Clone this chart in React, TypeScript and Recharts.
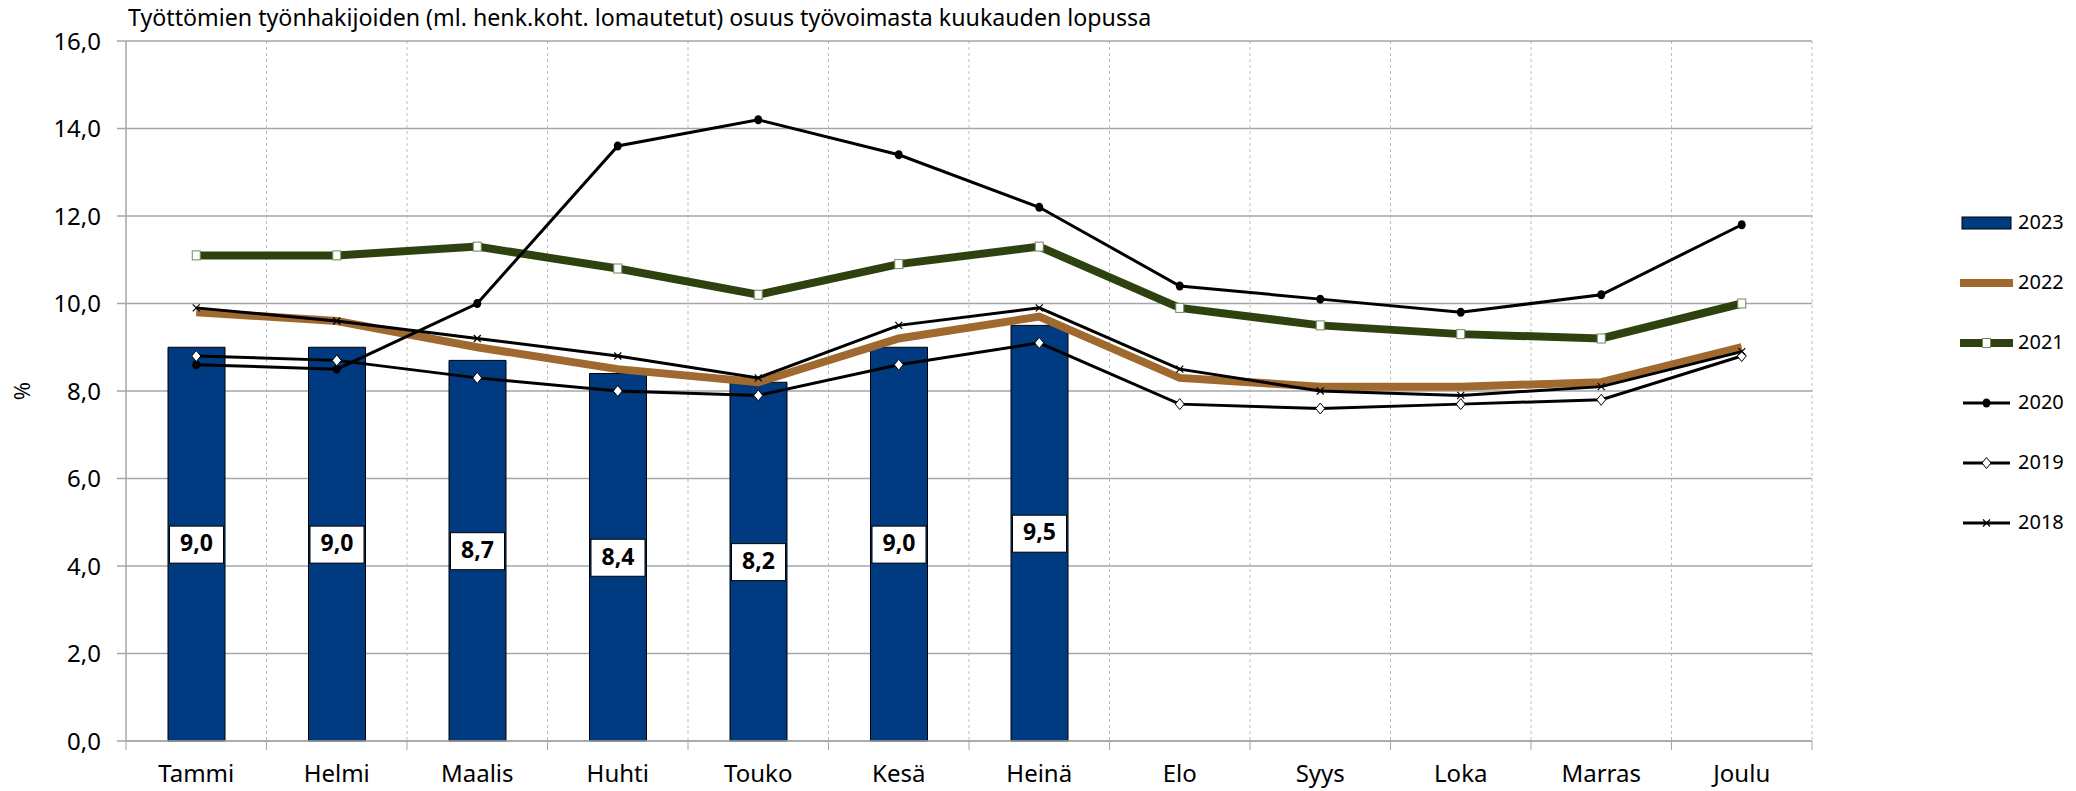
import { ComposedChart, Bar, Line, XAxis, YAxis, CartesianGrid, LabelList } from 'recharts';

const months = ['Tammi', 'Helmi', 'Maalis', 'Huhti', 'Touko', 'Kesä', 'Heinä', 'Elo', 'Syys', 'Loka', 'Marras', 'Joulu'];
const v2023 = [9.0, 9.0, 8.7, 8.4, 8.2, 9.0, 9.5];
const v2022 = [9.8, 9.6, 9.0, 8.5, 8.2, 9.2, 9.7, 8.3, 8.1, 8.1, 8.2, 9.0];
const v2021 = [11.1, 11.1, 11.3, 10.8, 10.2, 10.9, 11.3, 9.9, 9.5, 9.3, 9.2, 10.0];
const v2020 = [8.6, 8.5, 10.0, 13.6, 14.2, 13.4, 12.2, 10.4, 10.1, 9.8, 10.2, 11.8];
const v2019 = [8.8, 8.7, 8.3, 8.0, 7.9, 8.6, 9.1, 7.7, 7.6, 7.7, 7.8, 8.8];
const v2018 = [9.9, 9.6, 9.2, 8.8, 8.3, 9.5, 9.9, 8.5, 8.0, 7.9, 8.1, 8.9];
const yTicks = [0, 2, 4, 6, 8, 10, 12, 14, 16];

const data = months.map((month, i) => ({
  month,
  y2023: v2023[i] ?? null,
  y2022: v2022[i],
  y2021: v2021[i],
  y2020: v2020[i],
  y2019: v2019[i],
  y2018: v2018[i],
}));

const W = 2076;
const H = 791;
const M = { top: 41, right: 264, bottom: 0, left: 26 };
const Y_AXIS_W = 100;
const X_AXIS_H = 50;
const PLOT_LEFT = M.left + Y_AXIS_W;
const PLOT_W = W - PLOT_LEFT - M.right;
const PLOT_BOTTOM = H - M.bottom - X_AXIS_H;
const STEP = PLOT_W / months.length;

const FONT = '"Noto Sans", "Open Sans", sans-serif';
const GRID = '#a6a6a6';
const BLUE = '#003a80';
const BROWN = '#a0692f';
const GREEN = '#2e4210';

const fmt = (v: number) => v.toFixed(1).replace('.', ',');

const MonthTick = (props: any) => {
  const { x, payload, index } = props;
  const left = x - STEP / 2;
  return (
    <g>
      <line x1={left} x2={left} y1={PLOT_BOTTOM} y2={PLOT_BOTTOM + 9} stroke={GRID} />
      {index === months.length - 1 && (
        <line x1={x + STEP / 2} x2={x + STEP / 2} y1={PLOT_BOTTOM} y2={PLOT_BOTTOM + 9} stroke={GRID} />
      )}
      <text x={x} y={PLOT_BOTTOM + 35} textAnchor="middle" dominantBaseline="middle" fontSize={24} fontFamily={FONT} fill="#000">
        {payload.value}
      </text>
    </g>
  );
};

const BarValue = (props: any) => {
  const { x, y, width, height, value } = props;
  if (value == null) return null;
  const cx = x + width / 2;
  const cy = y + height / 2;
  return (
    <g>
      <rect x={cx - 27} y={cy - 18} width={54} height={37} fill="#fff" stroke="#000" strokeWidth={1} />
      <text x={cx} y={cy + 1} textAnchor="middle" dominantBaseline="middle" fontSize={23} fontWeight="bold" fontFamily={FONT} fill="#000">
        {fmt(value)}
      </text>
    </g>
  );
};

const squareDot = (p: any) => (
  <rect key={p.key} x={p.cx - 4} y={p.cy - 4.5} width={8} height={9} fill="#fff" stroke="#76875a" strokeWidth={1} />
);
const circleDot = (p: any) => <ellipse key={p.key} cx={p.cx} cy={p.cy} rx={4} ry={4.5} fill="#000" />;
const diamondDot = (p: any) => (
  <path key={p.key} d={`M${p.cx},${p.cy - 5.5} L${p.cx + 4.5},${p.cy} L${p.cx},${p.cy + 5.5} L${p.cx - 4.5},${p.cy} Z`} fill="#fff" stroke="#000" strokeWidth={1} />
);
const crossDot = (p: any) => (
  <path key={p.key} d={`M${p.cx - 3.5},${p.cy - 3.5} L${p.cx + 3.5},${p.cy + 3.5} M${p.cx + 3.5},${p.cy - 3.5} L${p.cx - 3.5},${p.cy + 3.5}`} stroke="#000" strokeWidth={1.2} />
);

const legendItems = [
  { name: '2023', kind: 'bar' },
  { name: '2022', kind: 'brown' },
  { name: '2021', kind: 'green' },
  { name: '2020', kind: 'circle' },
  { name: '2019', kind: 'diamond' },
  { name: '2018', kind: 'cross' },
];

const LegendBox = () => (
  <svg width={118} height={370} style={{ position: 'absolute', left: 1955, top: 193 }}>
    {legendItems.map((it, i) => {
      const cy = 30 + i * 60;
      const x1 = 5;
      const x2 = 58;
      const mid = (x1 + x2) / 2;
      let icon = null;
      if (it.kind === 'bar') {
        icon = <rect x={x1 + 2} y={cy - 6} width={x2 - x1 - 4} height={12} fill={BLUE} stroke="#000" strokeWidth={1} />;
      } else if (it.kind === 'brown') {
        icon = <line x1={x1} x2={x2} y1={cy} y2={cy} stroke={BROWN} strokeWidth={8} />;
      } else if (it.kind === 'green') {
        icon = (
          <g>
            <line x1={x1} x2={x2} y1={cy} y2={cy} stroke={GREEN} strokeWidth={8} />
            {squareDot({ cx: mid, cy })}
          </g>
        );
      } else {
        icon = (
          <g>
            <line x1={x1 + 3} x2={x2 - 3} y1={cy} y2={cy} stroke="#000" strokeWidth={3} />
            {it.kind === 'circle' && circleDot({ cx: mid, cy })}
            {it.kind === 'diamond' && diamondDot({ cx: mid, cy })}
            {it.kind === 'cross' && crossDot({ cx: mid, cy })}
          </g>
        );
      }
      return (
        <g key={it.name}>
          {icon}
          <text x={63} y={cy + 1} dominantBaseline="middle" fontSize={20} fontFamily={FONT} fill="#000">
            {it.name}
          </text>
        </g>
      );
    })}
  </svg>
);

export default function App() {
  return (
    <div style={{ position: 'fixed', left: 0, top: 0, width: W, height: H, background: '#fff', overflow: 'hidden' }}>
      <div style={{ position: 'absolute', left: 128, top: 1, fontSize: 23.2, fontFamily: FONT, color: '#000', whiteSpace: 'nowrap' }}>
        Työttömien työnhakijoiden (ml. henk.koht. lomautetut) osuus työvoimasta kuukauden lopussa
      </div>
      <div style={{ position: 'absolute', left: 12, top: 391, fontSize: 22, fontFamily: FONT, transform: 'translate(0,-50%) rotate(-90deg)' }}>%</div>
      <ComposedChart width={W} height={H} data={data} margin={M} barCategoryGap={0}>
        <CartesianGrid horizontal={false} vertical stroke="#bdbdbd" strokeDasharray="3 3"
          verticalCoordinatesGenerator={({ offset }: any) =>
            months.map((_, i) => offset.left + ((i + 1) * offset.width) / months.length)
          }
        />
        <CartesianGrid vertical={false} stroke={GRID} strokeWidth={1.5} />
        <XAxis dataKey="month" interval={0} height={X_AXIS_H} axisLine={{ stroke: GRID, strokeWidth: 1.5 }} tickLine={false} tick={<MonthTick />} />
        <YAxis
          domain={[0, 16]}
          ticks={yTicks}
          width={Y_AXIS_W}
          tickFormatter={fmt}
          axisLine={{ stroke: GRID, strokeWidth: 1.5 }}
          tickLine={{ stroke: GRID, strokeWidth: 1.5 }}
          tickSize={9}
          tickMargin={16}
          tick={{ fontSize: 24, fontFamily: FONT, fill: '#000' }}
        />
        <Bar dataKey="y2023" fill={BLUE} stroke="#000" strokeWidth={1} barSize={57} isAnimationActive={false}>
          <LabelList dataKey="y2023" content={<BarValue />} />
        </Bar>
        <Line dataKey="y2022" stroke={BROWN} strokeWidth={8} dot={false} isAnimationActive={false} />
        <Line dataKey="y2021" stroke={GREEN} strokeWidth={8} dot={squareDot} isAnimationActive={false} />
        <Line dataKey="y2020" stroke="#000" strokeWidth={3} dot={circleDot} isAnimationActive={false} />
        <Line dataKey="y2019" stroke="#000" strokeWidth={3} dot={diamondDot} isAnimationActive={false} />
        <Line dataKey="y2018" stroke="#000" strokeWidth={3} dot={crossDot} isAnimationActive={false} />
      </ComposedChart>
      <LegendBox />
    </div>
  );
}
